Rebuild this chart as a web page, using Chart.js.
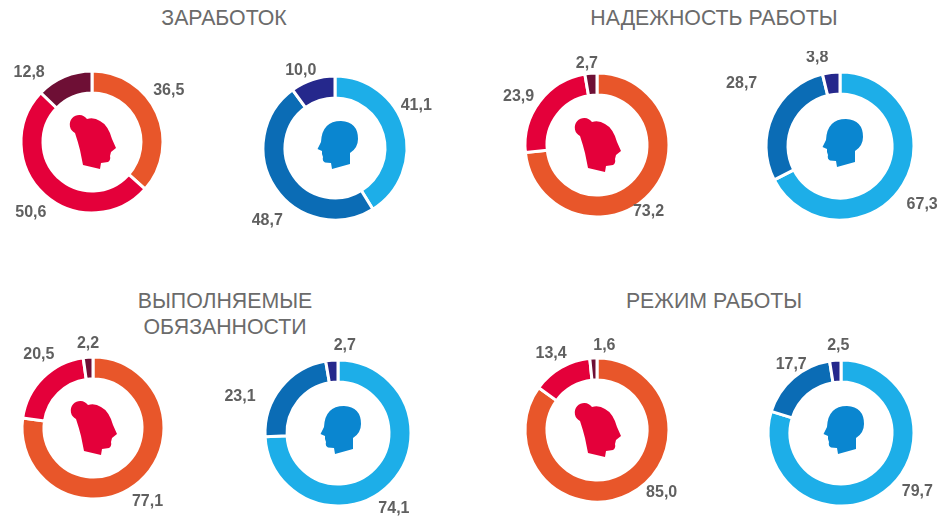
<!DOCTYPE html>
<html lang="ru">
<head>
<meta charset="utf-8">
<title>Удовлетворенность работой</title>
<script src="https://cdn.jsdelivr.net/npm/chart.js@4"></script>
<style>
    html, body { margin: 0; padding: 0; background: #fff; }
    #page { position: relative; width: 950px; height: 516px; overflow: hidden; }
    #page canvas { position: absolute; }
    .titulo {
        position: absolute; width: 320px; text-align: center;
        font: 21.3px/26px "Liberation Sans", sans-serif; color: #6b6b6b;
    }
</style>
</head>
<body>
<div id="page">
    <div class="titulo" style="left:64px;top:5px">ЗАРАБОТОК</div>
    <div class="titulo" style="left:554px;top:5px">НАДЕЖНОСТЬ РАБОТЫ</div>
    <div class="titulo" style="left:65px;top:288px">ВЫПОЛНЯЕМЫЕ<br>ОБЯЗАННОСТИ</div>
    <div class="titulo" style="left:554px;top:288px">РЕЖИМ РАБОТЫ</div>
</div>
<script>
// valores em %, mulheres e homens
const zarabotokF = [36.5, 50.6, 12.8];
const zarabotokM = [41.1, 48.7, 10.0];
const nadezhnostF = [73.2, 23.9, 2.7];
const nadezhnostM = [67.3, 28.7, 3.8];
const obyazannostiF = [77.1, 20.5, 2.2];
const obyazannostiM = [74.1, 23.1, 2.7];
const rezhimF = [85.0, 13.4, 1.6];
const rezhimM = [79.7, 17.7, 2.5];

const coresF = ['#E8562A', '#E4003A', '#6E0F35'];
const coresM = ['#1DAEE8', '#0B6CB5', '#25288C'];
const corCabecaF = '#E4003A';
const corCabecaM = '#0A86D0';

const CANVAS_W = 240;
const CANVAS_H = 190;

// cabecas, relativas ao centro da rosca
const cabecaF = new Path2D('M-9 23 L8 27 L9 21 L16 20 Q19 18 18 14 L19 10 L24 6 L20 -3 Q16 -17 8 -21 Q2 -25 -5 -23 A9.5 9.5 0 1 0 -17 -9 Q-14 0 -12 8 Z');
const cabecaM = new Path2D('M-3 21 L-4 15 L-10 14.5 Q-13 13 -12 9 L-13 6 L-13 3 L-17.5 1 L-14 -6 Q-13 -27 6 -27 Q23 -26 23 -9 Q23 0 15 5 L15 16 Z');

const pluginRosca = {
    id: 'pluginRosca',
    afterDatasetsDraw(chart, args, opts) {
        const { ctx } = chart;
        const arcos = chart.getDatasetMeta(0).data;
        const valores = chart.data.datasets[0].data;

        ctx.save();
        ctx.font = 'bold 16px "Liberation Sans", sans-serif';
        ctx.fillStyle = '#606060';
        ctx.textAlign = 'center';
        ctx.textBaseline = 'middle';
        arcos.forEach((arco, i) => {
            const meio = (arco.startAngle + arco.endAngle) / 2;
            const x = arco.x + Math.cos(meio) * arco.outerRadius + opts.desvios[i][0];
            const y = arco.y + Math.sin(meio) * arco.outerRadius + opts.desvios[i][1];
            ctx.fillText(valores[i].toFixed(1).replace('.', ','), x, y);
        });

        ctx.translate(arcos[0].x, arcos[0].y);
        ctx.fillStyle = opts.corCabeca;
        ctx.fill(opts.cabeca);
        ctx.restore();
    }
};

const renderizarRosca = (valores, cores, cabeca, corCabeca, cx, cy, raio, desvios) => {
    const canvas = document.createElement('canvas');
    canvas.style.left = (cx - CANVAS_W / 2) + 'px';
    canvas.style.top = (cy - CANVAS_H / 2) + 'px';
    canvas.style.width = CANVAS_W + 'px';
    canvas.style.height = CANVAS_H + 'px';
    canvas.width = CANVAS_W;
    canvas.height = CANVAS_H;
    document.getElementById('page').appendChild(canvas);

    new Chart(canvas.getContext('2d'), {
        type: 'doughnut',
        data: {
            labels: ['Удовлетворены', 'Скорее удовлетворены', 'Не удовлетворены'],
            datasets: [{
                data: valores,
                backgroundColor: cores,
                borderColor: '#ffffff',
                borderWidth: 3,
            }]
        },
        options: {
            responsive: false,
            animation: false,
            radius: raio,
            cutout: ((raio - 22) / raio * 100) + '%',
            plugins: {
                legend: { display: false },
                tooltip: { enabled: false },
                pluginRosca: { desvios, cabeca, corCabeca },
            }
        },
        plugins: [pluginRosca]
    });
};

renderizarRosca(zarabotokF, coresF, cabecaF, corCabecaF, 92, 142, 71, [[12, -22], [-13, 18], [-35, -4]]);
renderizarRosca(zarabotokM, coresM, cabecaM, corCabecaM, 335, 148, 72, [[12, -23], [-8, 32], [-12, -9]]);
renderizarRosca(nadezhnostF, coresF, cabecaF, corCabecaF, 597, 145, 72, [[-2, 18], [-21, -5], [-4, -10]]);
renderizarRosca(nadezhnostM, coresM, cabecaM, corCabecaM, 840, 146, 74, [[19, 20], [-31, -32], [-14, -15]]);
renderizarRosca(obyazannostiF, coresF, cabecaF, corCabecaF, 93, 428, 71, [[8, 20], [-4, -23], [0, -14]]);
renderizarRosca(obyazannostiM, coresM, cabecaM, corCabecaM, 338, 433, 73, [[3, 25], [-41, 9], [13, -15]]);
renderizarRosca(rezhimF, coresF, cabecaF, corCabecaF, 597, 430, 72, [[32, -2], [-10, -14], [11, -12]]);
renderizarRosca(rezhimM, coresM, cabecaM, corCabecaM, 841, 433, 73, [[33, 0], [-2, -13], [3, -15]]);
</script>
</body>
</html>
